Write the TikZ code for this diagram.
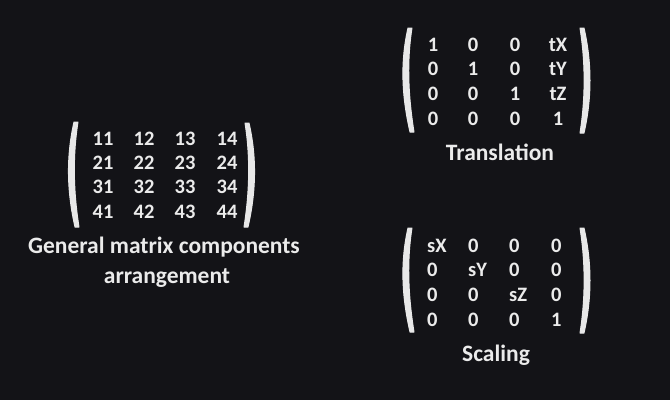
\documentclass[tikz,border=0pt]{standalone}
\usepackage{fontspec}
\setmainfont{Carlito}
\definecolor{bgcol}{HTML}{131317}
\definecolor{txtcol}{HTML}{EBEBEB}
\definecolor{parcol}{HTML}{E8E8E8}
\newcommand\myLpar[4]{% xtop, xbot, ytop, ybot
  \fill[parcol,draw=parcol,line width=1pt,line join=round]
    ({#1-2},#3) .. controls ({#1-10},{#3+(#4-#3)/3}) and ({#2-10},{#3+2*(#4-#3)/3}) .. ({#2-2},#4)
    -- ({#2+2},#4) .. controls ({#2-3.5},{#3+2*(#4-#3)/3}) and ({#1-3.5},{#3+(#4-#3)/3}) .. ({#1+2},#3) -- cycle;}
\newcommand\myRpar[4]{%
  \fill[parcol,draw=parcol,line width=1pt,line join=round]
    ({#1+2},#3) .. controls ({#1+10},{#3+(#4-#3)/3}) and ({#2+10},{#3+2*(#4-#3)/3}) .. ({#2+2},#4)
    -- ({#2-2},#4) .. controls ({#2+3.5},{#3+2*(#4-#3)/3}) and ({#1+3.5},{#3+(#4-#3)/3}) .. ({#1-2},#3) -- cycle;}
\tikzset{
  entry/.style={inner sep=0pt,text=txtcol,font=\fontsize{20.5}{24}\selectfont\bfseries},
  sentry/.style={entry,anchor=west},
  caption/.style={inner sep=0pt,anchor=base,text=txtcol,font=\fontsize{23.5}{28}\selectfont\bfseries}
}
\begin{document}
\begin{tikzpicture}[x=1pt,y=-1pt]
\fill[bgcol] (0,0) rectangle (670,400);
\useasboundingbox (0,0) rectangle (670,400);
% General matrix
\myLpar{76}{77}{122}{227}
\myRpar{247}{246}{123}{227}
\foreach \r/\y in {1/139,2/163,3/187,4/212}{
  \foreach \c/\x in {1/103,2/144,3/185,4/227}{
    \node[entry] (g\r\c) at (\x,\y) {\r\c};
  }
}
\node[caption] (gen1) at (164,253) {General matrix components};
\node[caption] (gen2) at (167,283) {arrangement};
% Translation
\myLpar{410}{412}{28}{132}
\myRpar{582}{582}{28}{133}
\node[entry] (t11) at (433,45) {1};
\node[entry] (t12) at (473,45) {0};
\node[entry] (t13) at (515,45) {0};
\node[entry] (t14) at (558,45) {tX};
\node[entry] (t21) at (433,69) {0};
\node[entry] (t22) at (473,69) {1};
\node[entry] (t23) at (515,69) {0};
\node[entry] (t24) at (558,69) {tY};
\node[entry] (t31) at (433,94) {0};
\node[entry] (t32) at (473,94) {0};
\node[entry] (t33) at (515,94) {1};
\node[entry] (t34) at (558,94) {tZ};
\node[entry] (t41) at (433,119) {0};
\node[entry] (t42) at (473,119) {0};
\node[entry] (t43) at (515,119) {0};
\node[entry] (t44) at (558,119) {1};
\node[caption] (trans) at (500,160) {Translation};
% Scaling
\myLpar{410}{412}{228}{332}
\myRpar{582}{582}{228}{333}
\node[sentry] (s11) at (427,246) {sX};
\node[sentry] (s12) at (468,246) {0};
\node[sentry] (s13) at (509,246) {0};
\node[sentry] (s14) at (551,246) {0};
\node[sentry] (s21) at (427,270) {0};
\node[sentry] (s22) at (468,270) {sY};
\node[sentry] (s23) at (509,270) {0};
\node[sentry] (s24) at (551,270) {0};
\node[sentry] (s31) at (427,295) {0};
\node[sentry] (s32) at (468,295) {0};
\node[sentry] (s33) at (509,295) {sZ};
\node[sentry] (s34) at (551,295) {0};
\node[sentry] (s41) at (427,320) {0};
\node[sentry] (s42) at (468,320) {0};
\node[sentry] (s43) at (509,320) {0};
\node[sentry] (s44) at (551,320) {1};
\node[caption] (scal) at (496,361) {Scaling};
\end{tikzpicture}
\end{document}
